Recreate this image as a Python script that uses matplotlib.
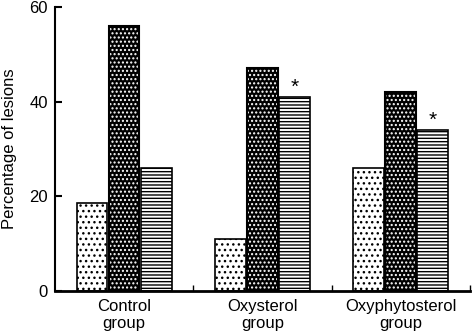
import numpy as np
import matplotlib.pyplot as plt

plt.rcParams['font.family'] = ['Liberation Sans', 'DejaVu Sans']
plt.rcParams['hatch.linewidth'] = 1.0

# data
groups = ['Control\ngroup', 'Oxysterol\ngroup', 'Oxyphytosterol\ngroup']
series1 = [18.5, 11, 26]
series2 = [56, 47, 42]
series3 = [26, 41, 34]
signif3 = [False, True, True]

fig = plt.figure(figsize=(4.72, 3.34), dpi=100)
ax = fig.add_axes([0.1165, 0.13, 0.879, 0.849])

x = np.arange(len(groups))
w = 0.222
off = 0.232

# serie 1: branco com pontos pretos
ax.bar(x - off, series1, w, color='white', edgecolor='black', hatch='...', linewidth=1.2)
# serie 2: preto com pontos brancos
ax.bar(x, series2, w, color='black', edgecolor='white', hatch='....', linewidth=0)
ax.bar(x, series2, w, fill=False, edgecolor='black', linewidth=1.5)
# serie 3: listras horizontais
ax.bar(x + off, series3, w, color='white', edgecolor='black', hatch='-----', linewidth=1.2)

# asteriscos
for xi, v, s in zip(x, series3, signif3):
    if s:
        ax.text(xi + off, v + 2.0, '*', ha='center', va='center', fontsize=15)

ax.set_xlim(-0.5, 2.5)
ax.set_ylim(0, 60)
ax.set_yticks([0, 20, 40, 60])
ax.set_xticks(x)
ax.set_xticklabels(groups, fontsize=12, linespacing=1.18)
ax.set_xticks([0.5, 1.5, 2.5], minor=True)
ax.tick_params(axis='x', which='major', length=0, pad=6)
ax.tick_params(axis='x', which='minor', direction='in', length=4, width=1)
ax.tick_params(axis='y', direction='in', length=5, width=1.5, labelsize=12, pad=5)
ax.set_ylabel('Percentage of lesions', fontsize=12, labelpad=9)

for s in ['top', 'right']:
    ax.spines[s].set_visible(False)
ax.spines['left'].set_linewidth(1.5)
ax.spines['bottom'].set_linewidth(2)

fig.savefig('out.png', dpi=100)
